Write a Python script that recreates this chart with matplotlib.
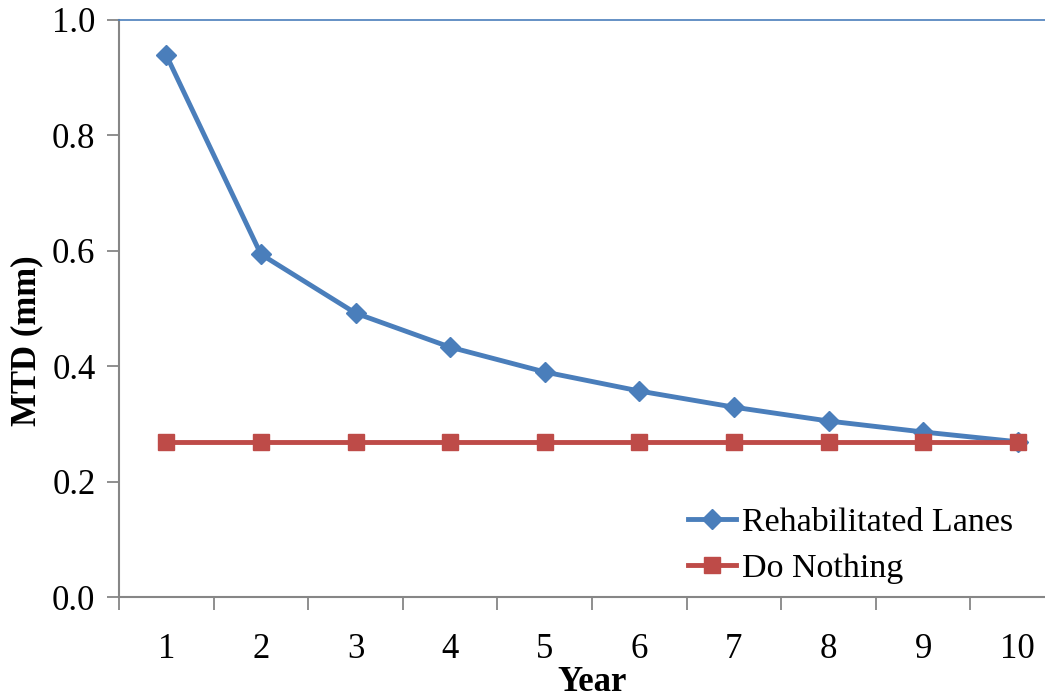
import matplotlib.pyplot as plt

# === DATA ===
years = [1, 2, 3, 4, 5, 6, 7, 8, 9, 10]
rehab_mtd = [0.939, 0.594, 0.492, 0.433, 0.390, 0.357, 0.329, 0.305, 0.286, 0.269]
nothing_mtd = [0.269, 0.269, 0.269, 0.269, 0.269, 0.269, 0.269, 0.269, 0.269, 0.269]

plt.rcParams['font.family'] = ['Liberation Serif', 'DejaVu Serif']

fig = plt.figure(figsize=(10.45, 7), dpi=100)
# axes runs slightly past the right edge, like the original
ax = fig.add_axes([119 / 1045, 1 - 597 / 700, 946 / 1045, 577 / 700])

ax.plot(years, rehab_mtd, color='#4A7EBB', lw=3.5, marker='D', ms=10.5,
        label='Rehabilitated Lanes')
ax.plot(years, nothing_mtd, color='#BE4B48', lw=3.5, marker='s', ms=12,
        label='Do Nothing')

ax.set_xlim(0.5, 10.5)
ax.set_ylim(0, 1.0)
ax.set_yticks([0.0, 0.2, 0.4, 0.6, 0.8, 1.0])
ax.set_yticklabels([f"{v:.1f}" for v in [0.0, 0.2, 0.4, 0.6, 0.8, 1.0]])
ax.set_xticks(years)
ax.set_xticks([y - 0.5 for y in years] + [10.5], minor=True)
ax.tick_params(axis='x', which='major', length=0, labelsize=25, pad=26)
ax.tick_params(axis='x', which='minor', length=9, width=1.3, color='#868686', direction='out')
ax.tick_params(axis='y', length=9, width=1.3, color='#868686', labelsize=25, pad=8)

for s in ['left', 'bottom']:
    ax.spines[s].set_color('#868686')
    ax.spines[s].set_linewidth(1.5)
ax.spines['right'].set_visible(False)
ax.spines['top'].set_color('#4A7EBB')
ax.spines['top'].set_linewidth(1.2)

ax.set_ylabel('MTD (mm)', fontsize=25, fontweight='bold', labelpad=6, y=0.445)
ax.set_xlabel('Year', fontsize=25, fontweight='bold', labelpad=0)

ax.legend(loc='lower left', bbox_to_anchor=(0.569, -0.031), frameon=False,
          fontsize=24.5, handlelength=1.4, handletextpad=0.2, labelspacing=0.45)

fig.savefig('out.png', dpi=100)
